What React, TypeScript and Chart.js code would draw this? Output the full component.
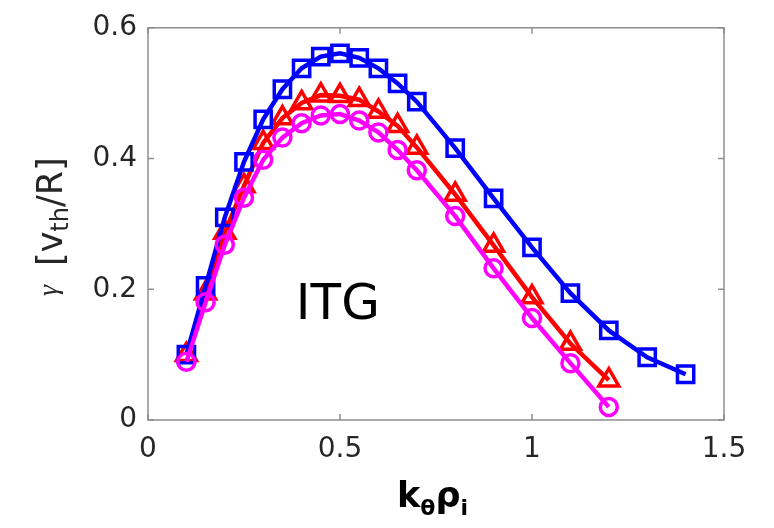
import React, { useEffect, useRef } from "react";
import { Chart, registerables } from "chart.js";

Chart.register(...registerables);

// ---- data ----
const xBlue = [0.1, 0.15, 0.2, 0.25, 0.3, 0.35, 0.4, 0.45, 0.5, 0.55, 0.6, 0.65, 0.7, 0.8, 0.9, 1.0, 1.1, 1.2, 1.3, 1.4];
const gammaBlue = [0.1, 0.205, 0.31, 0.395, 0.46, 0.506, 0.538, 0.556, 0.561, 0.554, 0.538, 0.515, 0.487, 0.416, 0.339, 0.264, 0.194, 0.137, 0.096, 0.07];

const xRed = [0.1, 0.15, 0.2, 0.25, 0.3, 0.35, 0.4, 0.45, 0.5, 0.55, 0.6, 0.65, 0.7, 0.8, 0.9, 1.0, 1.1, 1.2];
const gammaRed = [0.1, 0.194, 0.287, 0.358, 0.424, 0.462, 0.485, 0.497, 0.496, 0.49, 0.472, 0.45, 0.417, 0.345, 0.267, 0.188, 0.117, 0.061];

const xMagenta = [0.1, 0.15, 0.2, 0.25, 0.3, 0.35, 0.4, 0.45, 0.5, 0.55, 0.6, 0.65, 0.7, 0.8, 0.9, 1.0, 1.1, 1.2];
const gammaMagenta = [0.089, 0.18, 0.268, 0.34, 0.398, 0.432, 0.454, 0.466, 0.468, 0.458, 0.44, 0.413, 0.382, 0.312, 0.232, 0.156, 0.087, 0.02];

const xTicks = [0, 0.5, 1, 1.5];
const yTicks = [0, 0.2, 0.4, 0.6];

const annotationText = "ITG";
const annotationAt = { x: 0.385, y: 0.155 };

const TEXT = "#262626";
const BOX = "#8f8f8f";

const toPoints = (xs: number[], ys: number[]) => xs.map((x, i) => ({ x, y: ys[i] }));

const decorPlugin = {
  id: "decor",
  afterDraw(chart: any) {
    const ctx = chart.ctx as CanvasRenderingContext2D;
    const { left, right, top, bottom } = chart.chartArea;
    const xs = chart.scales.x;
    const ys = chart.scales.y;
    ctx.save();
    // box
    ctx.strokeStyle = BOX;
    ctx.lineWidth = 1.5;
    ctx.strokeRect(left, top, right - left, bottom - top);
    // inner ticks
    const tl = 6;
    ctx.beginPath();
    xTicks.forEach((v) => {
      const px = xs.getPixelForValue(v);
      ctx.moveTo(px, bottom);
      ctx.lineTo(px, bottom - tl);
      ctx.moveTo(px, top);
      ctx.lineTo(px, top + tl);
    });
    yTicks.forEach((v) => {
      const py = ys.getPixelForValue(v);
      ctx.moveTo(left, py);
      ctx.lineTo(left + tl, py);
      ctx.moveTo(right, py);
      ctx.lineTo(right - tl, py);
    });
    ctx.stroke();

    // annotation
    ctx.fillStyle = "#000000";
    ctx.font = '50px "DejaVu Sans"';
    ctx.textAlign = "left";
    ctx.textBaseline = "alphabetic";
    ctx.fillText(annotationText, xs.getPixelForValue(annotationAt.x), ys.getPixelForValue(annotationAt.y));

    // x title: k_θ ρ_i (bold)
    ctx.fillStyle = "#000000";
    let cx = 397;
    const base = 507;
    ctx.font = 'bold 35px "DejaVu Sans"';
    ctx.fillText("k", cx, base);
    cx += ctx.measureText("k").width;
    ctx.font = 'bold 22px "DejaVu Sans"';
    ctx.fillText("θ", cx, base + 8);
    cx += ctx.measureText("θ").width;
    ctx.font = 'bold 35px "DejaVu Sans"';
    ctx.fillText("ρ", cx, base);
    cx += ctx.measureText("ρ").width;
    ctx.font = 'bold 22px "DejaVu Sans"';
    ctx.fillText("i", cx, base + 8);

    // y title: γ [v_th/R] (rotated)
    ctx.save();
    ctx.translate(62, 296);
    ctx.rotate(-Math.PI / 2);
    ctx.fillStyle = TEXT;
    ctx.font = 'italic 28px "Liberation Serif"';
    ctx.fillText("γ", 0, -5);
    let tx = 30;
    ctx.font = '35px "DejaVu Sans"';
    ctx.fillText("[v", tx, 0);
    tx += ctx.measureText("[v").width;
    ctx.font = '24px "DejaVu Sans"';
    ctx.fillText("th", tx, 6);
    tx += ctx.measureText("th").width;
    ctx.font = '35px "DejaVu Sans"';
    ctx.fillText("/R]", tx, 0);
    ctx.restore();

    ctx.restore();
  },
};

export default function App() {
  const ref = useRef<HTMLCanvasElement | null>(null);

  useEffect(() => {
    if (!ref.current) return;
    const chart = new Chart(ref.current, {
      type: "line",
      data: {
        datasets: [
          {
            label: "magenta",
            data: toPoints(xMagenta, gammaMagenta),
            borderColor: "#ff00ff",
            backgroundColor: "rgba(0,0,0,0)",
            borderWidth: 4.5,
            pointStyle: "circle",
            pointRadius: 8.5,
            pointBorderWidth: 3.5,
            pointBorderColor: "#ff00ff",
            pointBackgroundColor: "rgba(0,0,0,0)",
            order: 0,
          },
          {
            label: "blue",
            data: toPoints(xBlue, gammaBlue),
            borderColor: "#0000ff",
            backgroundColor: "rgba(0,0,0,0)",
            borderWidth: 4.5,
            pointStyle: "rect",
            pointRadius: 11.5,
            pointBorderWidth: 3.5,
            pointBorderColor: "#0000ff",
            pointBackgroundColor: "rgba(0,0,0,0)",
            order: 1,
          },
          {
            label: "red",
            data: toPoints(xRed, gammaRed),
            borderColor: "#ff0000",
            backgroundColor: "rgba(0,0,0,0)",
            borderWidth: 4.5,
            pointStyle: "triangle",
            pointRadius: 11.5,
            pointBorderWidth: 3.5,
            pointBorderColor: "#ff0000",
            pointBackgroundColor: "rgba(0,0,0,0)",
            order: 2,
          },
        ] as any,
      },
      options: {
        animation: false,
        responsive: false,
        events: [],
        layout: { padding: { left: 0, right: 50, top: 27, bottom: 0 } },
        plugins: { legend: { display: false }, tooltip: { enabled: false } },
        elements: { line: { tension: 0 } },
        scales: {
          x: {
            type: "linear",
            min: 0,
            max: 1.5,
            grid: { display: false, drawTicks: false },
            border: { display: false },
            afterBuildTicks: (s: any) => {
              s.ticks = xTicks.map((v) => ({ value: v }));
            },
            afterFit: (s: any) => {
              s.height = 108;
            },
            ticks: {
              padding: 13,
              color: TEXT,
              font: { family: "DejaVu Sans", size: 28 },
              maxRotation: 0,
              autoSkip: false,
              callback: (v: any) => String(v),
            },
          },
          y: {
            type: "linear",
            min: 0,
            max: 0.6,
            grid: { display: false, drawTicks: false },
            border: { display: false },
            afterBuildTicks: (s: any) => {
              s.ticks = yTicks.map((v) => ({ value: v }));
            },
            afterFit: (s: any) => {
              s.width = 148;
            },
            ticks: {
              padding: 11,
              color: TEXT,
              font: { family: "DejaVu Sans", size: 28 },
              autoSkip: false,
              callback: (v: any) => String(v),
            },
          },
        },
      },
      plugins: [decorPlugin],
    });
    return () => chart.destroy();
  }, []);

  return (
    <div style={{ position: "fixed", left: 0, top: 0, width: 774, height: 528, background: "#ffffff" }}>
      <canvas ref={ref} width={774} height={528} style={{ display: "block" }} />
    </div>
  );
}
